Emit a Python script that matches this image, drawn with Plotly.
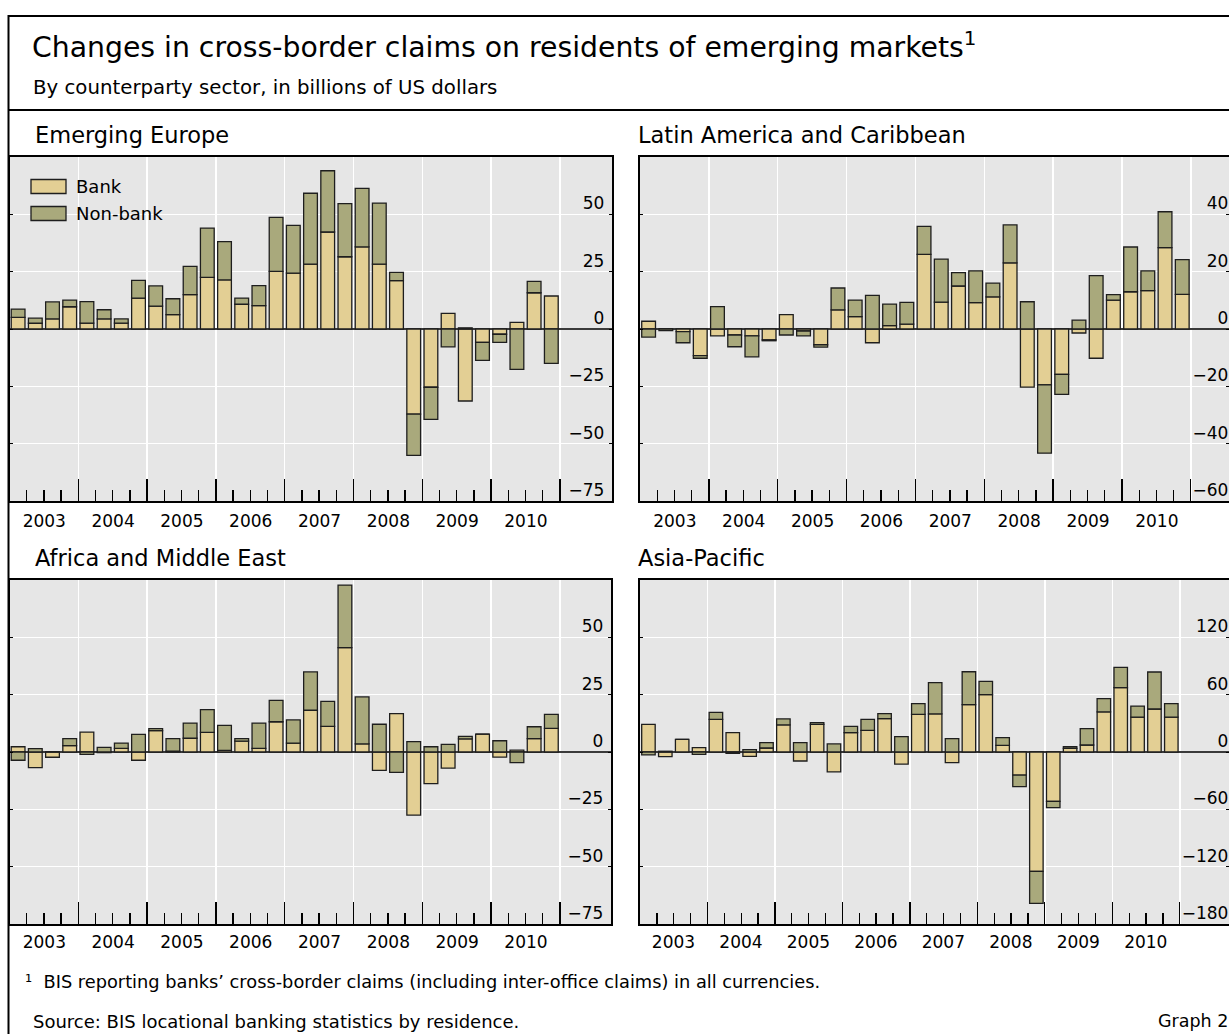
import plotly.graph_objects as go

# ---------------- data (billions of US dollars, quarterly 2003Q1-2010Q4) -------------
quarters = [f"{y}Q{q}" for y in range(2003, 2011) for q in range(1, 5)]
years = ["2003", "2004", "2005", "2006", "2007", "2008", "2009", "2010"]

europe_bank = [5.1, 2.5, 4.4, 9.7, 2.6, 4.4, 2.6, 13.5, 10.0, 6.3, 15.0, 22.5, 21.4, 10.8, 10.2, 25.1,
               24.4, 28.3, 42.3, 31.5, 35.8, 28.3, 21.1, -37.1, -25.4, 6.8, -31.4, -5.8, -2.3, 2.9, 15.8, 14.4]
europe_nonbank = [3.6, 2.2, 7.4, 2.9, 9.3, 4.0, 1.8, 7.7, 8.8, 6.9, 12.3, 21.5, 16.7, 2.7, 8.7, 23.6,
                  20.8, 30.9, 26.7, 23.2, 25.5, 26.6, 3.6, -18.0, -14.0, -7.8, 0.5, -7.9, -3.5, -17.6, 5.0, -15.0]

latam_bank = [2.7, 0.0, -0.9, -9.3, -2.4, -2.1, -2.4, -3.8, 5.0, -0.7, -5.5, 6.7, 4.3, -4.8, 1.2, 1.7,
              26.0, 9.4, 15.0, 9.2, 11.2, 23.1, -20.3, -19.5, -15.8, -1.4, -10.2, 10.1, 13.0, 13.4, 28.4, 12.1]
latam_nonbank = [-2.8, -0.6, -3.9, -0.9, 7.8, -4.1, -7.3, -0.3, -2.1, -1.7, -0.8, 7.6, 5.8, 11.7, 7.5, 7.6,
                 9.8, 15.0, 4.7, 11.1, 4.8, 13.2, 9.5, -23.8, -7.0, 3.1, 18.6, 1.9, 15.6, 6.9, 12.5, 12.1]

africa_bank = [2.3, -6.8, -2.3, 2.8, 8.7, -0.3, 1.6, -3.6, 9.3, 0.4, 6.0, 8.6, 0.7, 4.7, 1.6, 13.2,
               3.9, 18.2, 11.2, 45.5, 3.5, -8.0, 16.7, -27.5, -13.8, -7.0, 5.7, 7.8, -2.2, 0.8, 5.8, 10.3]
africa_nonbank = [-3.6, 1.5, 0.0, 3.0, -1.0, 2.0, 2.3, 7.7, 0.9, 5.4, 6.6, 9.9, 10.9, 1.1, 11.0, 9.3,
                  10.1, 16.7, 10.9, 27.3, 20.5, 12.1, -8.9, 4.5, 2.3, 3.3, 1.1, 0.0, 4.9, -4.6, 5.2, 6.1]

asia_bank = [29.0, -4.9, 13.3, 4.5, 34.2, 20.2, -4.5, 4.2, 28.3, -9.4, 29.0, -20.9, 20.2, 22.7, 34.9, -12.6,
             39.4, 39.8, -11.2, 49.5, 60.0, 7.0, -24.1, -124.9, -51.6, 3.8, 7.3, 41.9, 67.3, 36.6, 45.0, 36.6]
asia_nonbank = [-3.1, 0.8, 0.0, -2.4, 7.3, -1.4, 2.4, 5.6, 6.3, 9.8, 1.7, 8.4, 6.6, 11.5, 5.2, 16.0,
                11.2, 32.8, 14.0, 34.5, 14.0, 8.0, -12.2, -33.5, -6.6, 1.7, 17.1, 13.9, 21.3, 11.5, 38.7, 14.0]

europe_ticks = [-75, -50, -25, 0, 25, 50]
latam_ticks = [-60, -40, -20, 0, 20, 40]
africa_ticks = [-75, -50, -25, 0, 25, 50]
asia_ticks = [-180, -120, -60, 0, 60, 120]

series_names = ["Bank", "Non-bank"]

# ---------------- layout helpers ----------------
FONT = "DejaVu Sans"
W, H = 1229, 1034


def fx(x):
    return x / W


def fy(y):
    return 1 - y / H


xq = [int(q[:4]) + (int(q[-1]) - 0.5) / 4 for q in quarters]
year_ends = [int(y) + 1 for y in years]                       # 2004 ... 2011
minor_vals = [int(y) + k / 4 for y in years for k in (1, 2, 3)]

BANK = "#E3CF94"
NONBANK = "#A9A97C"
EDGE = "#1E1E1E"

panels = [
    # name, bank, nonbank, yticks, xdomain(px), ydomain(px), xmax, title x, x-label standoff
    ("Emerging Europe", europe_bank, europe_nonbank, europe_ticks, (9.5, 612), (157, 501), 2011.757, 33, 4),
    ("Latin America and Caribbean", latam_bank, latam_nonbank, latam_ticks, (640, 1229), (157, 501), 2011.554, 636, 4),
    ("Africa and Middle East", africa_bank, africa_nonbank, africa_ticks, (9.5, 611), (580, 924), 2011.742, 33, 2),
    ("Asia-Pacific", asia_bank, asia_nonbank, asia_ticks, (640, 1229), (580, 924), 2011.73, 636, 2),
]

fig = go.Figure()
annotations = []
layout = {}

for i, (name, bank, nonbank, yt, xd, yd, xmax, tx, xstand) in enumerate(panels):
    n = "" if i == 0 else str(i + 1)
    xa, ya = "x" + n, "y" + n
    fig.add_trace(go.Bar(x=xq, y=bank, name=series_names[0], xaxis=xa, yaxis=ya, width=0.2,
                         marker=dict(color=BANK, line=dict(color=EDGE, width=1.3)),
                         showlegend=False))
    fig.add_trace(go.Bar(x=xq, y=nonbank, name=series_names[1], xaxis=xa, yaxis=ya, width=0.2,
                         marker=dict(color=NONBANK, line=dict(color=EDGE, width=1.3)),
                         showlegend=False))
    ymax = -yt[0]
    right_cut = xd[1] >= W
    layout["xaxis" + n] = dict(
        domain=[fx(xd[0]), min(fx(xd[1]), 1.0)], anchor=ya, range=[2003, xmax],
        tickmode="array", tickvals=year_ends, ticktext=years,
        ticks="inside", ticklen=22, tickwidth=1.3, tickcolor="#000",
        ticklabelshift=-34, ticklabelstandoff=xstand,
        tickfont=dict(family=FONT, size=17, color="#000"),
        showgrid=True, gridcolor="white", gridwidth=1.5, zeroline=False,
        showline=True, mirror=True, linecolor="#000", linewidth=2,
        minor=dict(tickvals=minor_vals, ticks="inside", ticklen=11, tickwidth=1.3,
                   tickcolor="#000", showgrid=False),
        automargin=False, fixedrange=True,
    )
    layout["yaxis" + n] = dict(
        domain=[fy(yd[1]), fy(yd[0])], anchor=xa, range=[-ymax, ymax],
        tickmode="array", tickvals=yt, side="right",
        ticks="inside", ticklen=3, tickwidth=1, tickcolor="#000",
        ticklabelposition="inside", ticklabelshift=-11,
        ticklabelstandoff=(-2 if right_cut else 5),
        tickfont=dict(family=FONT, size=17, color="#000"),
        showgrid=True, gridcolor="white", gridwidth=1.5,
        zeroline=True, zerolinecolor="#3A3A3A", zerolinewidth=1.2,
        showline=True, mirror="ticks", linecolor="#000", linewidth=2,
        automargin=False, fixedrange=True,
    )
    annotations.append(dict(text=name, x=fx(tx), y=fy(yd[0] - 22),
                            xref="paper", yref="paper", xanchor="left", yanchor="middle",
                            showarrow=False, font=dict(family=FONT, size=22.5, color="#000")))

# legend (Emerging Europe panel): wide swatches as in the original
legend_rows = [(series_names[0], BANK, 186.5), (series_names[1], NONBANK, 213.5)]
shapes = []
for label, col, yc in legend_rows:
    shapes.append(dict(type="rect", xref="paper", yref="paper", x0=fx(31), x1=fx(66),
                       y0=fy(yc - 7), y1=fy(yc + 7), fillcolor=col,
                       line=dict(color=EDGE, width=1.3), layer="above"))
    annotations.append(dict(text=label, x=fx(74), y=fy(yc), xref="paper", yref="paper",
                            xanchor="left", yanchor="middle", showarrow=False,
                            font=dict(family=FONT, size=18, color="#000")))

annotations += [
    dict(text="Changes in cross-border claims on residents of emerging markets<sup>1</sup>",
         x=fx(30), y=fy(45), xref="paper", yref="paper", xanchor="left", yanchor="middle",
         showarrow=False, font=dict(family=FONT, size=28.3, color="#000")),
    dict(text="By counterparty sector, in billions of US dollars",
         x=fx(31), y=fy(87), xref="paper", yref="paper", xanchor="left", yanchor="middle",
         showarrow=False, font=dict(family=FONT, size=19.75, color="#000")),
    dict(text="¹  BIS reporting banks’ cross-border claims (including inter-office claims) in all currencies.",
         x=fx(23), y=fy(981), xref="paper", yref="paper", xanchor="left", yanchor="middle",
         showarrow=False, font=dict(family=FONT, size=17.8, color="#000")),
    dict(text="Source: BIS locational banking statistics by residence.",
         x=fx(31), y=fy(1021), xref="paper", yref="paper", xanchor="left", yanchor="middle",
         showarrow=False, font=dict(family=FONT, size=18, color="#000")),
    dict(text="Graph 2",
         x=fx(1230), y=fy(1021), xref="paper", yref="paper", xanchor="right", yanchor="middle",
         showarrow=False, font=dict(family=FONT, size=17.5, color="#000")),
]

shapes += [
    dict(type="rect", xref="paper", yref="paper", x0=fx(8.5), x1=1.05, y0=fy(16), y1=-0.05,
         line=dict(color="#000", width=2), fillcolor="rgba(0,0,0,0)", layer="above"),
    dict(type="line", xref="paper", yref="paper", x0=fx(8.5), x1=1.05, y0=fy(110), y1=fy(110),
         line=dict(color="#000", width=2.2)),
]

fig.update_layout(
    template="none",
    width=W, height=H, autosize=False,
    margin=dict(l=0, r=0, t=0, b=0, pad=0),
    paper_bgcolor="white", plot_bgcolor="#E6E6E6",
    barmode="relative", bargap=0,
    font=dict(family=FONT, size=17, color="#000"),
    showlegend=False,
    annotations=annotations, shapes=shapes,
    **layout,
)

fig.write_html("out.html", config={"displayModeBar": False, "staticPlot": True},
               post_script="document.body.style.margin='0';document.body.style.overflow='hidden';")
